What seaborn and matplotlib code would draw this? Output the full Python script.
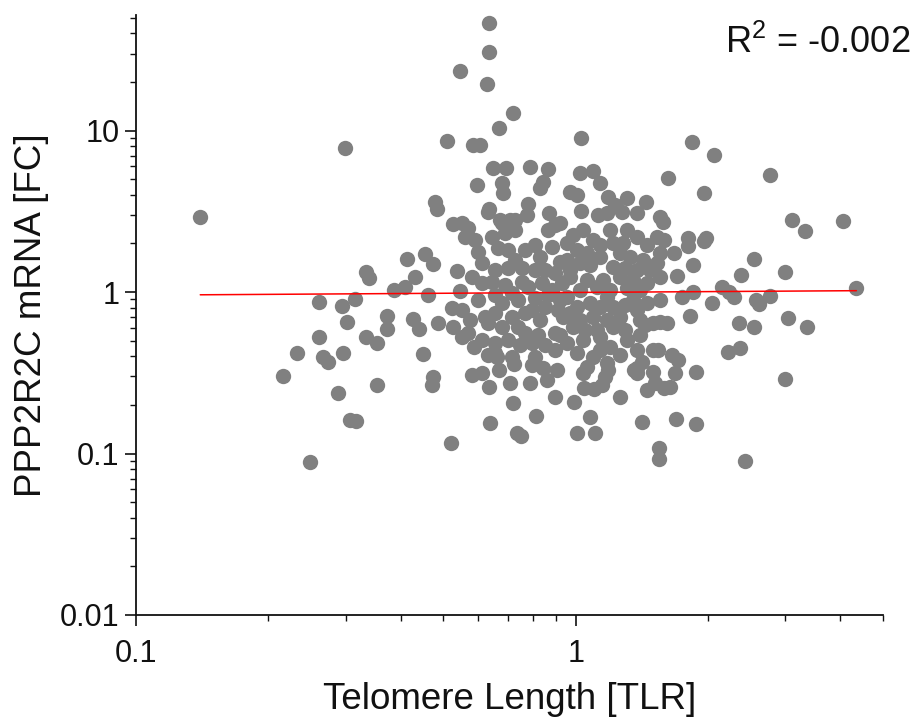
import matplotlib
matplotlib.use("Agg")
import matplotlib.pyplot as plt
from matplotlib.ticker import FuncFormatter, NullFormatter, LogLocator
import seaborn as sns
import pandas as pd

# ---- data (Telomere length [TLR] vs PPP2R2C mRNA [FC]) ----
tlr_left = [0.140, 0.299, 0.509, 0.545, 0.478, 0.483, 0.525, 0.413, 0.454, 0.473,
            0.333, 0.338, 0.431, 0.386, 0.409, 0.461, 0.536, 0.545, 0.261, 0.294,
            0.315, 0.302, 0.261, 0.372, 0.372, 0.426, 0.440, 0.486, 0.523, 0.333,
            0.353, 0.525, 0.232, 0.266, 0.295, 0.449, 0.216, 0.273, 0.288, 0.353,
            0.306, 0.316, 0.473, 0.471, 0.249, 0.520, 0.551, 0.586]
fc_left = [2.91, 7.79, 8.61, 23.4, 3.61, 3.26, 2.64, 1.60, 1.72, 1.49,
           1.33, 1.22, 1.24, 1.03, 1.07, 0.958, 1.35, 1.01, 0.867, 0.819,
           0.905, 0.652, 0.526, 0.71, 0.59, 0.68, 0.59, 0.643, 0.796, 0.526,
           0.483, 0.607, 0.419, 0.396, 0.419, 0.413, 0.302, 0.369, 0.237, 0.265,
           0.161, 0.159, 0.298, 0.265, 0.0886, 0.116, 0.526, 0.456]

tlr_top = [0.634, 0.634, 0.628, 0.719, 0.668, 0.583, 0.605, 0.647, 0.693, 0.786,
           0.864, 0.596, 0.679, 0.682, 0.841, 0.828, 0.634, 0.778, 0.774, 0.868,
           0.568, 0.672, 0.708,
           1.026, 1.835, 2.06, 1.618, 1.021, 1.093, 1.134, 1.963, 0.969, 1.005,
           1.182, 1.306, 1.226, 1.272, 1.442, 1.026, 1.122, 1.176, 1.552, 1.577, 0.92]
fc_top = [46.3, 30.6, 19.4, 12.8, 10.4, 8.13, 8.13, 5.86, 5.86, 5.94,
          5.78, 4.60, 4.73, 4.10, 4.80, 4.40, 3.26, 3.51, 3.0, 3.08,
          2.49, 2.79, 2.79,
          8.99, 8.49, 7.05, 5.08, 5.46, 5.61, 4.73, 4.10, 4.16, 3.99,
          3.87, 3.82, 3.46, 3.13, 3.61, 3.17, 3.0, 3.08, 2.91, 2.71, 2.67]

tlr_right = [2.76, 3.10, 3.33, 4.06, 2.55, 2.99, 2.38, 4.35, 1.963, 1.797,
             1.845, 1.67, 1.696, 2.147, 2.297, 2.576, 2.76, 2.037, 1.816, 3.048,
             2.347, 2.538, 3.367, 2.215, 2.359, 3.0, 2.432, 2.228, 2.618, 1.742,
             1.845, 1.797, 1.974]
fc_right = [5.30, 2.79, 2.39, 2.75, 1.60, 1.33, 1.27, 1.06, 2.07, 1.93,
            1.47, 1.74, 1.26, 1.07, 0.931, 0.892, 0.944, 0.855, 0.71, 0.69,
            0.643, 0.607, 0.607, 0.425, 0.45, 0.289, 0.0899, 1.0, 0.843, 0.931,
            1.0, 2.16, 2.16]

tlr_low = [1.536, 1.652, 1.706, 1.874, 1.679, 1.635, 1.592, 1.503, 1.45, 1.512,
           1.413, 1.687, 1.874, 1.544, 1.544, 1.259, 1.076, 1.104, 1.005, 0.99,
           0.896, 0.811, 0.734, 0.75, 0.637, 0.719, 1.043, 1.099, 1.146, 1.355,
           1.376, 0.661, 0.723, 0.58, 0.611, 0.634, 0.668, 0.708, 0.794, 0.786,
           0.841, 0.859, 0.906, 1.059, 1.037, 1.176, 1.182, 1.164, 1.413, 1.376,
           1.398, 1.435, 1.552, 1.61]
fc_low = [0.438, 0.407, 0.379, 0.32, 0.315, 0.258, 0.255, 0.32, 0.247, 0.273,
          0.157, 0.164, 0.152, 0.108, 0.0925, 0.224, 0.168, 0.134, 0.134, 0.208,
          0.224, 0.171, 0.134, 0.128, 0.1545, 0.205, 0.255, 0.251, 0.265, 0.329,
          0.315, 0.396, 0.358, 0.306, 0.315, 0.258, 0.329, 0.273, 0.353, 0.273,
          0.338, 0.285, 0.329, 0.343, 0.315, 0.363, 0.329, 0.298, 0.369, 0.338,
          0.671, 0.625, 0.652, 0.643]

tlr_core_a = [0.631, 0.679, 0.727, 0.896, 0.551, 0.56, 0.59, 0.644, 0.69, 0.727,
              0.807, 0.766, 0.882, 0.665, 0.611, 0.654, 0.70, 0.754, 0.807, 0.85,
              0.896, 0.58, 0.727, 0.611, 0.644, 0.754, 0.778, 0.837, 0.882, 0.654,
              0.715, 0.93, 0.679, 0.738, 0.807, 0.85, 0.91, 0.654, 0.715, 0.766,
              0.794, 0.621, 0.551, 0.631, 0.679, 0.738, 0.766, 0.82, 0.896, 0.568,
              0.611, 0.654, 0.70, 0.794, 0.654, 0.715, 0.807, 0.896,
              0.599, 0.70, 0.828, 0.92, 0.69, 0.828, 0.92, 0.599, 0.746, 0.85,
              0.574, 0.864, 0.631, 0.92, 0.864]
fc_core_a = [3.13, 2.67, 2.79, 2.60, 2.67, 2.19, 2.10, 2.19, 2.32, 2.42,
             1.95, 1.82, 1.90, 1.87, 1.51, 1.37, 1.41, 1.41, 1.37, 1.37,
             1.31, 1.24, 1.58, 1.14, 1.15, 1.15, 1.07, 1.14, 1.03, 0.958,
             0.986, 1.14, 0.855, 0.892, 0.918, 0.807, 0.774, 0.741, 0.70, 0.741,
             0.774, 0.70, 0.774, 0.643, 0.607, 0.607, 0.557, 0.542, 0.557, 0.557,
             0.505, 0.483, 0.505, 0.483, 0.419, 0.396, 0.396, 0.438,
             1.77, 1.82, 1.65, 1.53, 1.105, 0.671, 0.892, 0.892, 0.47, 0.47,
             0.671, 2.42, 0.407, 0.542, 0.958]

tlr_core_b = [1.376, 1.037, 1.093, 1.195, 1.306, 1.376, 1.213, 1.528, 0.954, 1.005,
              1.059, 1.134, 1.259, 1.327, 1.42, 1.528, 0.954, 1.021, 1.213, 1.376,
              1.552, 0.969, 1.059, 1.152, 1.259, 1.348, 1.45, 1.552, 1.116, 1.306,
              0.954, 1.005, 1.076, 1.176, 1.213, 1.348, 1.45, 1.552, 1.376, 0.934,
              1.021, 1.093, 1.176, 1.259, 1.496, 1.116, 1.213, 0.984, 0.954, 1.037,
              1.134, 1.195, 1.306, 1.376, 1.496, 1.005, 1.093,
              0.984, 1.134, 1.279, 1.45, 1.076, 1.292, 1.473, 1.021, 1.195, 1.398,
              1.048, 1.292, 1.398, 1.134, 1.259, 0.969, 1.592, 0.969, 1.134, 1.292]
fc_core_b = [3.08, 2.42, 2.10, 2.42, 2.42, 2.19, 2.01, 2.19, 2.01, 1.82,
             1.74, 1.65, 1.74, 1.65, 1.58, 1.51, 1.58, 1.51, 1.43, 1.37,
             1.74, 1.24, 1.19, 1.19, 1.24, 1.19, 1.14, 1.24, 1.07, 1.06,
             0.931, 0.807, 0.855, 0.931, 0.807, 0.892, 0.855, 0.892, 0.774, 0.70,
             0.671, 0.70, 0.671, 0.70, 0.643, 0.582, 0.607, 0.607, 0.483, 0.505,
             0.526, 0.456, 0.505, 0.438, 0.438, 0.419, 0.396,
             2.25, 1.95, 2.01, 1.95, 1.47, 1.41, 1.37, 1.03, 1.03, 1.03,
             0.582, 0.582, 0.542, 0.438, 0.407, 1.37, 2.10, 0.741, 0.807, 0.831]

# regression line (end points)
fit_tlr = [0.14, 4.35]
fit_fc = [0.962, 1.02]
r2_label = "R$^2$ = -0.002"

x_ticks = [0.1, 1]
y_ticks = [0.01, 0.1, 1, 10]

df = pd.DataFrame({
    "tlr": tlr_left + tlr_top + tlr_right + tlr_low + tlr_core_a + tlr_core_b,
    "fc": fc_left + fc_top + fc_right + fc_low + fc_core_a + fc_core_b,
})
fit_df = pd.DataFrame({"tlr": fit_tlr, "fc": fit_fc})

# ---- styling ----
sns.set_style("ticks")
plt.rcParams["font.family"] = ["Liberation Sans", "DejaVu Sans"]
plt.rcParams["mathtext.fontset"] = "custom"
plt.rcParams["mathtext.rm"] = "Liberation Sans"
plt.rcParams["mathtext.it"] = "Liberation Sans:italic"
plt.rcParams["mathtext.bf"] = "Liberation Sans:bold"

fig = plt.figure(figsize=(9.17, 7.27), dpi=100)
ax = fig.add_axes([136 / 917, 112 / 727, 747 / 917, 600 / 727])

sns.scatterplot(data=df, x="tlr", y="fc", ax=ax, color="#808080", s=122,
                linewidth=0, alpha=1, zorder=2, legend=False)
sns.lineplot(data=fit_df, x="tlr", y="fc", ax=ax, color="#ff0000", linewidth=1.1,
             zorder=3, legend=False)

ax.set_xscale("log")
ax.set_yscale("log")
ax.set_xlim(0.1, 5.0)
ax.set_ylim(0.01, 52)

ax.xaxis.set_minor_locator(LogLocator(base=10, subs=range(2, 10), numticks=20))
ax.yaxis.set_minor_locator(LogLocator(base=10, subs=range(2, 10), numticks=20))
ax.set_xticks(x_ticks)
ax.set_yticks(y_ticks)
fmt = FuncFormatter(lambda v, _: f"{v:g}")
ax.xaxis.set_major_formatter(fmt)
ax.yaxis.set_major_formatter(fmt)
ax.xaxis.set_minor_formatter(NullFormatter())
ax.yaxis.set_minor_formatter(NullFormatter())

for s in ["top", "right"]:
    ax.spines[s].set_visible(False)
for s in ["left", "bottom"]:
    ax.spines[s].set_linewidth(1.3)
    ax.spines[s].set_color("#111111")

ax.tick_params(axis="both", which="major", direction="out", length=8, width=1.2,
               labelsize=22, colors="#111111")
ax.tick_params(axis="both", which="minor", direction="out", length=4, width=1.0,
               colors="#111111")
ax.tick_params(axis="x", which="major", pad=9)
ax.tick_params(axis="y", which="major", pad=4)

ax.set_xlabel("Telomere Length [TLR]", fontsize=26.5, color="#111111")
ax.set_ylabel("PPP2R2C mRNA [FC]", fontsize=26.5, color="#111111")
ax.xaxis.set_label_coords(0.5, -0.112)
ax.yaxis.set_label_coords(-0.117, 0.5)

fig.text(910 / 917, 1 - 53 / 727, r2_label, ha="right", va="baseline",
         fontsize=26, color="#111111")

fig.savefig("out.png", dpi=100, facecolor="white")
